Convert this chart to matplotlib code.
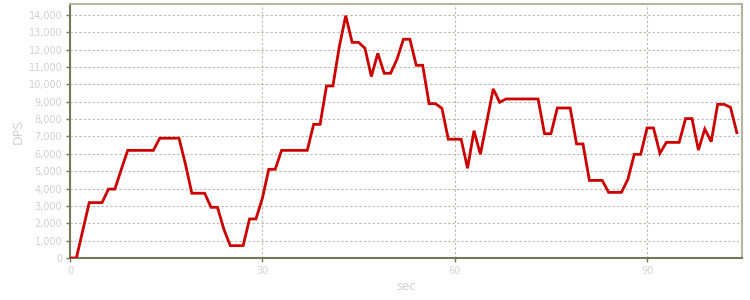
import matplotlib
matplotlib.use("Agg")
import matplotlib.pyplot as plt
from matplotlib.ticker import FuncFormatter, MultipleLocator

seconds = list(range(0, 105))
dps = [0, 0, 1600, 3190, 3190, 3190, 3970, 3970, 5100, 6200,
       6200, 6200, 6200, 6200, 6900, 6900, 6900, 6900, 5410, 3730,
       3730, 3730, 2920, 2920, 1650, 710, 710, 710, 2250, 2250,
       3440, 5110, 5110, 6200, 6200, 6200, 6200, 6200, 7700, 7700,
       9910, 9910, 12170, 13960, 12420, 12420, 12080, 10450, 11790, 10640,
       10640, 11450, 12600, 12600, 11100, 11100, 8890, 8890, 8620, 6840,
       6840, 6840, 5170, 7330, 5970, 7850, 9740, 8970, 9160, 9160,
       9160, 9160, 9160, 9160, 7160, 7160, 8640, 8640, 8640, 6570,
       6570, 4470, 4470, 4470, 3780, 3780, 3780, 4530, 5970, 5970,
       7490, 7490, 6030, 6660, 6660, 6660, 8030, 8030, 6220, 7430,
       6700, 8850, 8850, 8680, 7220]

x_ticks = [0, 30, 60, 90]

fig = plt.figure(figsize=(7.5, 3.0), dpi=100)
ax = fig.add_axes([70/750, 42/300, 672/750, 254/300])

ax.plot(seconds, dps, color="#cc0000", linewidth=2.0, solid_joinstyle="miter", zorder=3)

ax.set_xlim(0, 104.8)
ax.set_ylim(0, 14630)
ax.set_xticks(x_ticks)
ax.yaxis.set_major_locator(MultipleLocator(1000))
ax.yaxis.set_major_formatter(FuncFormatter(lambda v, p: f"{int(v):,}"))

ax.yaxis.grid(True, color="#b8b8a8", linestyle=(0, (2, 2)), linewidth=0.8)
ax.xaxis.grid(True, color="#b8b8a8", linestyle=(0, (2, 2)), linewidth=0.8)
ax.set_axisbelow(True)

for side in ["left", "bottom"]:
    ax.spines[side].set_color("#77775a")
    ax.spines[side].set_linewidth(1.5)
for side in ["top", "right"]:
    ax.spines[side].set_color("#b4b4a0")
    ax.spines[side].set_linewidth(1.5)

ax.tick_params(axis="both", colors="#77775a", labelcolor="#d0d0d0", labelsize=7,
               length=3, width=1, direction="out", pad=2.5)

ax.set_xlabel("sec", color="#d0d0d0", fontsize=8.5, labelpad=3)
ax.set_ylabel("DPS", color="#d0d0d0", fontsize=9, labelpad=3)

fig.savefig("out.png", dpi=100)
